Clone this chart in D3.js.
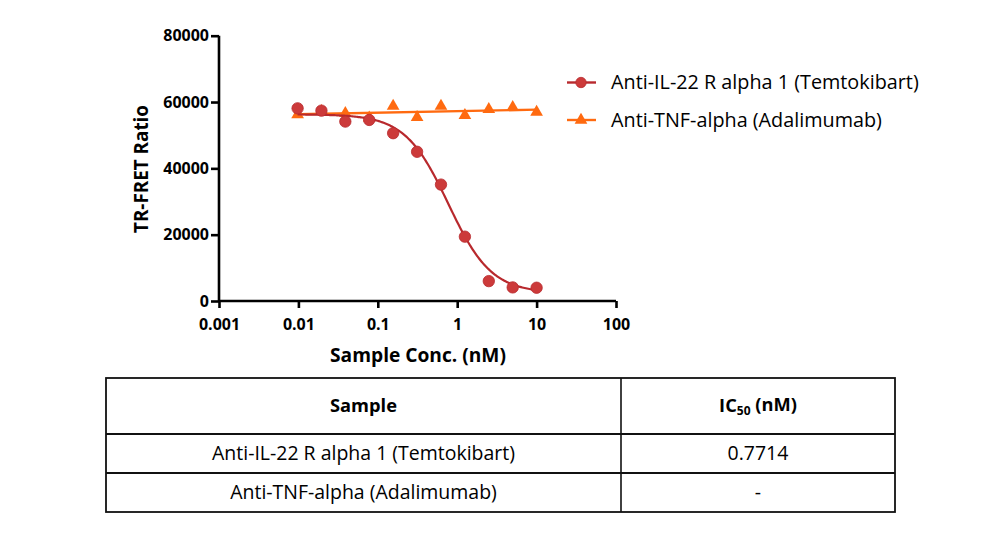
<!DOCTYPE html>
<html>
<head>
<meta charset="utf-8">
<script src="https://cdn.jsdelivr.net/npm/d3@7"></script>
<style>
  html, body { margin: 0; padding: 0; background: #fff; }
  svg { display: block; }
  text { font-family: "Open Sans", "DejaVu Sans", sans-serif; fill: #000; }
</style>
</head>
<body>
<svg id="chart" width="1000" height="560"></svg>
<script>
// ---------------- data ----------------
const concentrations = [0.00977, 0.0195, 0.039, 0.078, 0.156, 0.3125, 0.625, 1.25, 2.5, 5, 10];
const temtokibartValues = [58100, 57400, 54100, 54600, 50600, 45000, 35100, 19400, 6000, 4100, 4000];
const adalimumabValues  = [56200, 57200, 56600, 55200, 58800, 55400, 58800, 56000, 57800, 58400, 57000];
// 4PL fit of the Temtokibart curve (top, bottom, IC50, Hill slope)
const temtokibartFit = { top: 56300, bottom: 2400, ic50: 0.7714, hill: 1.6 };
// flat fit of the Adalimumab data (start, end)
const adalimumabFit = [{ x: 0.00977, y: 56300 }, { x: 10, y: 57700 }];
const seriesNames = ["Anti-IL-22 R alpha 1 (Temtokibart)", "Anti-TNF-alpha (Adalimumab)"];
const xTicks = [0.001, 0.01, 0.1, 1, 10, 100];
const xTickLabels = ["0.001", "0.01", "0.1", "1", "10", "100"];
const yTicks = [0, 20000, 40000, 60000, 80000];
const tableHeaders = ["Sample", "IC50 (nM)"];
const tableSamples = ["Anti-IL-22 R alpha 1 (Temtokibart)", "Anti-TNF-alpha (Adalimumab)"];
const tableIC50 = ["0.7714", "-"];

// ---------------- layout ----------------
const svg = d3.select("#chart");
const RED = "#cc3a3a", RED_DARK = "#b8292d", ORANGE = "#ff6a10";
const x = d3.scaleLog().domain([0.001, 100]).range([219, 616]);
const y = d3.scaleLinear().domain([0, 80000]).range([301, 35.7]);

function fitFont(sel, target, base) {
  sel.style("font-size", base + "px");
  const w = sel.node().getComputedTextLength();
  sel.style("font-size", (base * target / w).toFixed(2) + "px");
}

// axes
const yAxis = d3.axisLeft(y).tickValues(yTicks).tickSize(8).tickPadding(2).tickFormat(d3.format("d"));
const gy = svg.append("g").attr("transform", "translate(219,0)").call(yAxis);
gy.select(".domain").attr("stroke", "#000").attr("stroke-width", 2.6).attr("d", `M0,${y(0)}V${y(80000)}`);
gy.selectAll(".tick line").attr("stroke", "#000").attr("stroke-width", 2.6);
gy.selectAll(".tick text").style("font-family", "'Open Sans', sans-serif").style("font-weight", "700").style("font-size", "16px").attr("fill", "#000");

const xAxis = d3.axisBottom(x).tickValues(xTicks).tickSize(7).tickPadding(10.5)
  .tickFormat((d, i) => xTickLabels[i]);
const gx = svg.append("g").attr("transform", `translate(0,${y(0)})`).call(xAxis);
gx.select(".domain").attr("stroke", "#000").attr("stroke-width", 2.6).attr("d", `M${x(0.001)},0H${x(100)}`);
gx.selectAll(".tick line").attr("stroke", "#000").attr("stroke-width", 2.6);
gx.selectAll(".tick text").style("font-family", "'Open Sans', sans-serif").style("font-weight", "700").style("font-size", "16px").attr("fill", "#000");

// axis titles
const xt = svg.append("text").attr("x", 418).attr("y", 362).attr("text-anchor", "middle")
  .style("font-weight", "700").text("Sample Conc. (nM)");
fitFont(xt, 176, 19);
const yt = svg.append("text").attr("transform", "translate(148,169) rotate(-90)").attr("text-anchor", "middle")
  .style("font-weight", "700").text("TR-FRET Ratio");
fitFont(yt, 128, 19);

// fit curves
const fourPL = c => temtokibartFit.bottom + (temtokibartFit.top - temtokibartFit.bottom) / (1 + Math.pow(c / temtokibartFit.ic50, temtokibartFit.hill));
const curveX = d3.range(0, 201).map(i => Math.pow(10, Math.log10(concentrations[0]) + i / 200 * (Math.log10(10) - Math.log10(concentrations[0]))));
const lineGen = d3.line().x(d => x(d.x)).y(d => y(d.y));

svg.append("path").datum(adalimumabFit).attr("d", lineGen)
  .attr("fill", "none").attr("stroke", ORANGE).attr("stroke-width", 2.4);
const tri = d3.symbol().type(d3.symbolTriangle).size(70);
svg.append("g").selectAll("path").data(concentrations.map((c, i) => ({ x: c, y: adalimumabValues[i] })))
  .join("path").attr("d", tri).attr("transform", d => `translate(${x(d.x)},${y(d.y)})`)
  .attr("fill", ORANGE);

svg.append("path").datum(curveX.map(c => ({ x: c, y: fourPL(c) }))).attr("d", lineGen)
  .attr("fill", "none").attr("stroke", RED_DARK).attr("stroke-width", 2.2);
svg.append("g").selectAll("circle").data(concentrations.map((c, i) => ({ x: c, y: temtokibartValues[i] })))
  .join("circle").attr("cx", d => x(d.x)).attr("cy", d => y(d.y)).attr("r", 5.7)
  .attr("fill", RED).attr("stroke", RED_DARK).attr("stroke-width", 0.8);

// legend
const lg = svg.append("g");
const legY = [82.5, 120];
lg.append("line").attr("x1", 567).attr("x2", 596).attr("y1", legY[0]).attr("y2", legY[0]).attr("stroke", RED_DARK).attr("stroke-width", 2.4);
lg.append("circle").attr("cx", 581).attr("cy", legY[0]).attr("r", 5.2).attr("fill", RED).attr("stroke", RED_DARK).attr("stroke-width", 0.8);
lg.append("line").attr("x1", 567).attr("x2", 596).attr("y1", legY[1]).attr("y2", legY[1]).attr("stroke", ORANGE).attr("stroke-width", 2.4);
lg.append("path").attr("d", tri).attr("transform", `translate(581,${legY[1]})`).attr("fill", ORANGE);
const lt1 = lg.append("text").attr("x", 611).attr("y", legY[0]).attr("dy", "0.35em").text(seriesNames[0]);
fitFont(lt1, 308, 17);
const lt2 = lg.append("text").attr("x", 611).attr("y", legY[1]).attr("dy", "0.35em").text(seriesNames[1]);
lt2.style("font-size", lt1.style("font-size"));

// table
const tX = [106, 621, 895];
const tY = [378, 434, 473, 512];
const tg = svg.append("g");
tg.append("rect").attr("x", tX[0]).attr("y", tY[0]).attr("width", tX[2] - tX[0]).attr("height", tY[3] - tY[0])
  .attr("fill", "none").attr("stroke", "#111").attr("stroke-width", 1.8);
tg.append("line").attr("x1", tX[1]).attr("x2", tX[1]).attr("y1", tY[0]).attr("y2", tY[3]).attr("stroke", "#111").attr("stroke-width", 1.6);
[tY[1], tY[2]].forEach(v => tg.append("line").attr("x1", tX[0]).attr("x2", tX[2]).attr("y1", v).attr("y2", v).attr("stroke", "#111").attr("stroke-width", 1.8));

const c1 = (tX[0] + tX[1]) / 2, c2 = (tX[1] + tX[2]) / 2;
const hy = (tY[0] + tY[1]) / 2;
const sh = tg.append("text").attr("x", c1).attr("y", hy).attr("dy", "0.35em").attr("text-anchor", "middle")
  .style("font-weight", "700").text(tableHeaders[0]);
fitFont(sh, 67, 18);
const ic = tg.append("text").attr("x", c2).attr("y", hy).attr("dy", "0.35em").attr("text-anchor", "middle")
  .style("font-weight", "700").style("font-size", sh.style("font-size"));
ic.append("tspan").text(tableHeaders[1].slice(0, 2));
ic.append("tspan").style("font-size", "12px").attr("dy", "0.18em").text(tableHeaders[1].slice(2, 4));
ic.append("tspan").attr("dy", "-0.18em").text(tableHeaders[1].slice(4));

let bodySize = null;
tableSamples.forEach((s, i) => {
  const ry = (tY[i + 1] + tY[i + 2]) / 2;
  const t = tg.append("text").attr("x", c1).attr("y", ry).attr("dy", "0.35em").attr("text-anchor", "middle").text(s);
  if (bodySize === null) { fitFont(t, 303, 17); bodySize = t.style("font-size"); }
  else t.style("font-size", bodySize);
  tg.append("text").attr("x", c2).attr("y", ry).attr("dy", "0.35em").attr("text-anchor", "middle")
    .style("font-size", bodySize).text(tableIC50[i]);
});
</script>
</body>
</html>
